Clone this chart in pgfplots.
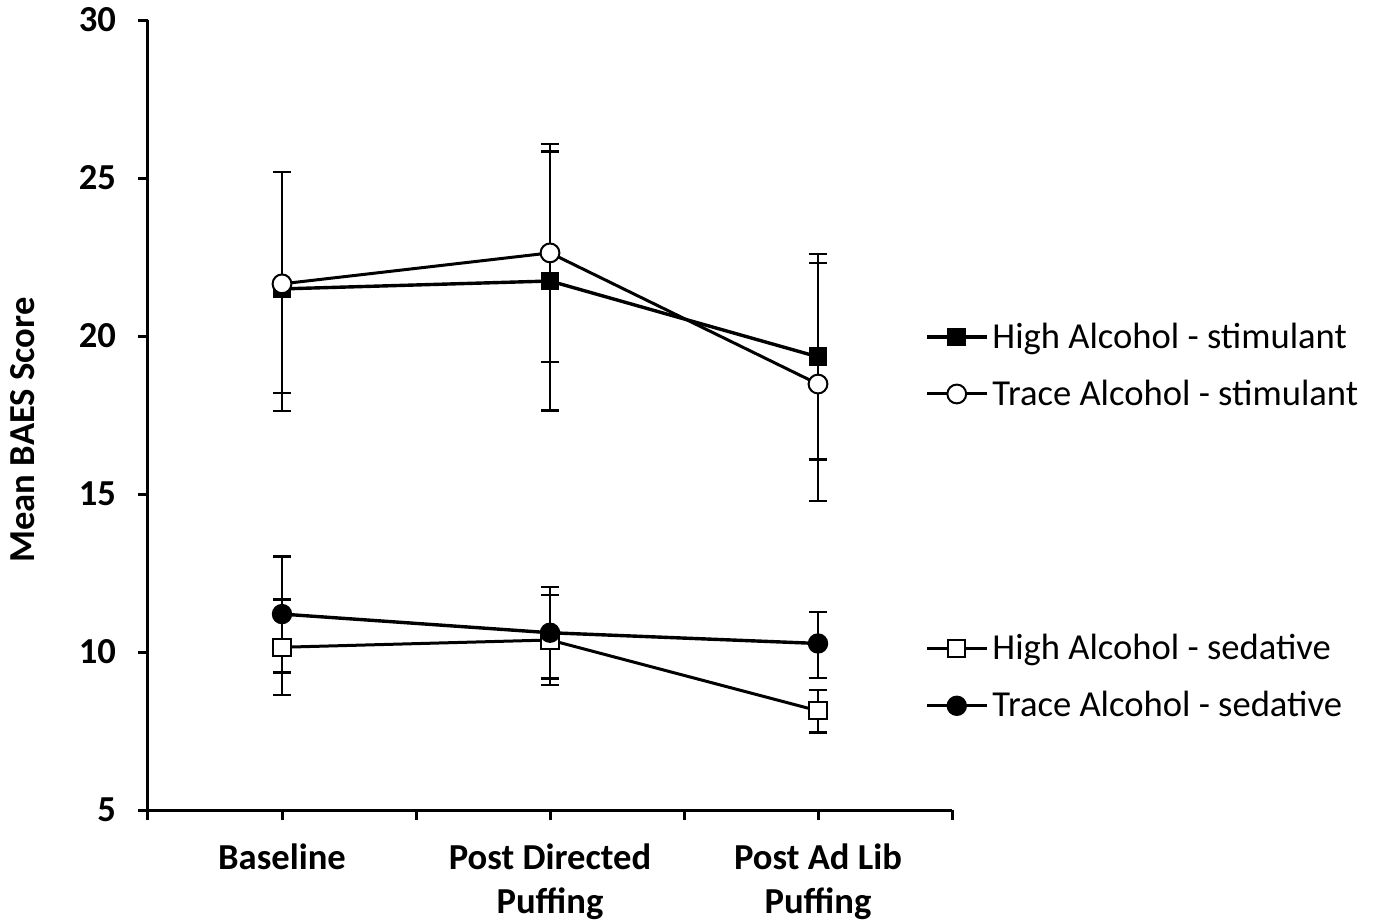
\documentclass[border=0pt]{standalone}
\usepackage{pgfplots}
\pgfplotsset{compat=1.18}
\usepackage{pgfplotstable}
\usepackage{fontspec}
\setmainfont{Carlito}

\pgfplotstableread{
x y ep em
0 21.49 3.71 3.86
1 21.74 4.10 4.10
2 19.34 3.25 3.25
}\HAstim
\pgfplotstableread{
x y ep em
0 21.65 3.55 3.45
1 22.63 3.45 3.45
2 18.48 3.82 3.70
}\TAstim
\pgfplotstableread{
x y ep em
0 10.15 1.51 1.51
1 10.38 1.42 1.42
2 8.14 0.66 0.69
}\HAsed
\pgfplotstableread{
x y ep em
0 11.20 1.82 1.85
1 10.61 1.45 1.45
2 10.27 1.00 1.10
}\TAsed

\pgfplotsset{
  sqfill/.style={black, line width=1.7pt, mark=square*, mark size=4.3pt, mark options={solid, fill=black, line width=0.8pt}},
  sqopen/.style={black, line width=1.5pt, mark=square*, mark size=4.3pt, mark options={solid, fill=white, line width=1pt}},
  cifill/.style={black, line width=1.7pt, mark=*, mark size=4.7pt, mark options={solid, fill=black, line width=0.8pt}},
  ciopen/.style={black, line width=1.5pt, mark=*, mark size=4.7pt, mark options={solid, fill=white, line width=1pt}},
  eb/.style={/pgfplots/error bars/y dir=both, /pgfplots/error bars/y explicit,
    /pgfplots/error bars/error bar style={line width=1.1pt, black},
    /pgfplots/error bars/error mark options={rotate=90, mark size=4.5pt, line width=1.1pt, black}},
  base/.style={
    at={(74pt,56pt)}, anchor=south west,
    scale only axis, width=402pt, height=395pt,
    xmin=-0.5, xmax=2.5, ymin=5, ymax=30,
  },
  mylegend/.style={
    legend style={draw=none, fill=none, font=\fontsize{18.3}{22}\selectfont, inner sep=0pt, row sep=10.3pt, anchor=west, cells={anchor=west}},
    legend image code/.code={\draw[mark repeat=2,mark phase=2,##1] plot coordinates {(0pt,0pt) (15pt,0pt) (30pt,0pt)};},
  },
}

\begin{document}
\begin{tikzpicture}
\useasboundingbox (0,0) rectangle (688pt,461pt);
\begin{axis}[base, mylegend,
  axis lines*=left,
  axis line style={line width=1.5pt},
  tick align=outside,
  major tick length=5pt,
  tick style={line width=1.5pt, black},
  ytick={5,10,15,20,25,30},
  xtick={0,1,2},
  xticklabels={Baseline, Post Directed\\Puffing, Post Ad Lib\\Puffing},
  extra x ticks={-0.5,0.5,1.5,2.5},
  extra x tick labels={},
  /pgf/number format/assume math mode=true,
  yticklabel style={font=\bfseries\fontsize{18.3}{22}\selectfont, xshift=-7.5pt},
  xticklabel style={font=\bfseries\fontsize{18.3}{22}\selectfont, align=center, yshift=-8.5pt},
  every axis y label/.style={at={(axis description cs:-0.1555,0.481)}, rotate=90, anchor=center},
  ylabel={Mean BAES Score},
  ylabel style={font=\bfseries\fontsize{18.3}{22}\selectfont},
  legend style={at={(axis description cs:0.966,0.5627)}},
  clip=false,
]
\addplot+[sqfill, eb] table[x=x, y=y, y error plus=ep, y error minus=em] {\HAstim};
\addlegendentry{High Alcohol - stimulant}
\addplot+[forget plot, sqopen, eb] table[x=x, y=y, y error plus=ep, y error minus=em] {\HAsed};
\addplot+[ciopen, eb] table[x=x, y=y, y error plus=ep, y error minus=em] {\TAstim};
\addlegendentry{Trace Alcohol - stimulant}
\addplot+[forget plot, cifill, eb] table[x=x, y=y, y error plus=ep, y error minus=em] {\TAsed};
\end{axis}
\begin{axis}[base, mylegend, hide axis,
  legend style={at={(axis description cs:0.966,0.168)}},
]
\addlegendimage{sqopen}
\addlegendentry{High Alcohol - sedative}
\addlegendimage{cifill}
\addlegendentry{Trace Alcohol - sedative}
\end{axis}
\end{tikzpicture}
\end{document}
